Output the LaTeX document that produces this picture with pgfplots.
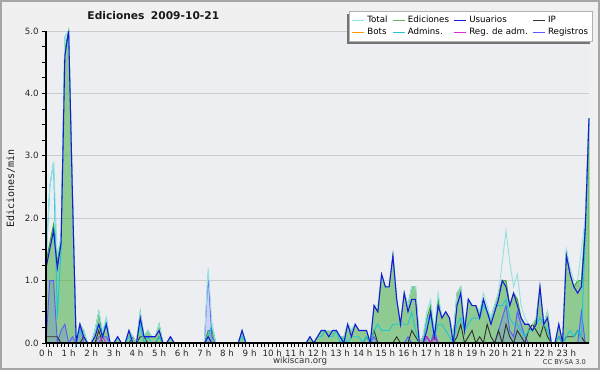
\documentclass[border=0pt]{standalone}
\usepackage{fontspec}
\setmainfont{DejaVu Sans}
\newfontfamily\monofont{DejaVu Sans Mono}
\usepackage{pgfplots}
\usepackage{pgfplotstable}
\pgfplotsset{compat=1.18}
\usetikzlibrary{shadows}
\makeatletter
\tikzset{nopreaction/.code={\let\tikz@preactions\pgfutil@empty}}
\makeatother

\definecolor{bgout}{RGB}{240,240,240}
\definecolor{bgplot}{RGB}{237,238,241}
\definecolor{ctotal}{RGB}{150,225,225}
\definecolor{ced}{RGB}{51,170,51}
\definecolor{cusu}{RGB}{25,25,220}
\definecolor{cip}{RGB}{50,50,50}
\definecolor{cbot}{RGB}{255,153,0}
\definecolor{cadm}{RGB}{30,200,215}
\definecolor{cradm}{RGB}{220,40,220}
\definecolor{creg}{RGB}{90,90,255}

\pgfplotstableread{
i E U T A P R M
0 1.3 1.2 1.3 1.3 0.1 0.0 0
1 1.6 1.5 2.5 2.5 0.1 1.0 0
2 1.9 1.8 2.9 2.9 0.1 1.0 0
3 1.3 1.2 1.4 0.4 0.1 0.0 0
4 1.7 1.6 1.7 1.5 0.0 0.2 0
5 4.7 4.6 4.9 4.9 0 0.3 0
6 5.0 5.0 5.0 5.0 0 0 0
7 2.4 2.4 2.5 2.4 0 0.1 0
8 0 0 0 0 0 0 0
9 0.3 0.3 0.3 0.2 0 0.3 0
10 0.2 0.1 0.2 0.1 0.1 0 0
11 0 0 0 0 0 0 0
12 0 0 0 0 0 0 0
13 0.2 0.1 0.2 0.2 0 0 0
14 0.5 0.3 0.5 0.3 0.2 0.1 0
15 0.1 0.1 0.2 0.1 0 0.1 0.1
16 0.3 0.3 0.4 0.4 0 0.1 0
17 0 0 0 0 0 0 0
18 0 0 0 0 0 0 0
19 0.1 0.1 0.1 0 0 0 0
20 0 0 0 0 0 0 0
21 0 0 0 0 0 0 0
22 0.2 0.2 0.2 0.1 0 0 0
23 0.1 0 0.1 0 0.1 0 0
24 0 0 0 0 0 0 0
25 0.5 0.4 0.5 0.3 0.1 0 0
26 0.1 0.1 0.1 0 0.1 0 0
27 0.2 0.1 0.2 0.1 0 0 0
28 0.1 0.1 0.1 0 0 0 0
29 0.1 0.1 0.1 0 0 0 0
30 0.3 0.2 0.3 0.1 0.1 0 0
31 0 0 0 0 0 0 0
32 0 0 0 0 0 0 0
33 0.1 0.1 0.1 0 0 0 0
34 0 0 0 0 0 0 0
35 0 0 0 0 0 0 0
36 0 0 0 0 0 0 0
37 0 0 0 0 0 0 0
38 0 0 0 0 0 0 0
39 0 0 0 0 0 0 0
40 0 0 0 0 0 0 0
41 0 0 0 0 0 0 0
42 0 0 0 0 0 0 0
43 0.2 0.1 1.2 0.1 0 1.1 0
44 0.2 0 0.3 0.3 0 0.1 0
45 0 0 0 0 0 0 0
46 0 0 0 0 0 0 0
47 0 0 0 0 0 0 0
48 0 0 0 0 0 0 0
49 0 0 0 0 0 0 0
50 0 0 0 0 0 0 0
51 0 0 0 0 0 0 0
52 0.2 0.2 0.2 0.1 0 0 0
53 0 0 0 0 0 0 0
54 0 0 0 0 0 0 0
55 0 0 0 0 0 0 0
56 0 0 0 0 0 0 0
57 0 0 0 0 0 0 0
58 0 0 0 0 0 0 0
59 0 0 0 0 0 0 0
60 0 0 0 0 0 0 0
61 0 0 0 0 0 0 0
62 0 0 0 0 0 0 0
63 0 0 0 0 0 0 0
64 0 0 0 0 0 0 0
65 0 0 0 0 0 0 0
66 0 0 0 0 0 0 0
67 0 0 0 0 0 0 0
68 0 0 0 0 0 0 0
69 0 0 0 0 0 0 0
70 0.1 0.1 0.1 0 0 0 0
71 0 0 0 0 0 0 0
72 0.1 0.1 0.1 0.1 0 0 0
73 0.2 0.2 0.2 0.1 0 0 0
74 0.2 0.2 0.2 0.2 0 0 0
75 0.2 0.1 0.2 0.1 0 0 0
76 0.2 0.2 0.2 0.1 0 0 0
77 0.2 0.2 0.2 0.2 0 0 0
78 0.1 0.1 0.1 0 0 0 0
79 0.1 0 0.1 0.1 0 0 0
80 0.3 0.3 0.3 0 0 0 0
81 0.2 0.1 0.2 0.1 0 0 0
82 0.3 0.3 0.3 0.1 0 0 0
83 0.2 0.2 0.2 0.1 0 0 0
84 0.2 0.2 0.2 0 0 0 0
85 0.2 0.2 0.2 0.1 0.1 0 0
86 0 0 0 0 0 0 0
87 0.6 0.6 0.6 0.2 0.2 0.1 0
88 0.5 0.5 0.6 0.3 0 0 0
89 1.1 1.1 1.1 0.2 0 0 0
90 0.9 0.9 0.9 0.2 0 0 0
91 0.9 0.9 0.9 0.2 0 0 0
92 1.4 1.4 1.4 0.3 0 0 0
93 0.7 0.7 0.7 0.3 0.1 0 0
94 0.3 0.3 0.3 0.3 0 0 0
95 0.8 0.8 0.8 0.3 0 0 0
96 0.6 0.5 0.6 0.3 0 0.1 0
97 0.9 0.7 0.9 0.5 0.2 0 0
98 0.9 0.7 0.9 0.2 0.1 0 0
99 0 0 0 0 0 0 0
100 0.1 0 0.1 0 0.1 0 0
101 0.4 0.2 0.5 0.4 0.1 0.1 0.1
102 0.6 0.5 0.7 0.4 0 0 0
103 0.1 0.1 0.2 0.1 0.1 0.2 0.1
104 0.7 0.6 0.8 0.3 0 0 0
105 0.4 0.4 0.4 0.3 0 0 0
106 0.5 0.5 0.5 0.2 0 0 0
107 0.4 0.4 0.4 0.1 0 0 0
108 0.1 0 0.1 0 0 0 0
109 0.8 0.6 0.8 0.3 0.1 0 0
110 0.9 0.8 0.9 0.4 0.3 0 0
111 0.2 0.2 0.3 0.2 0 0 0
112 0.7 0.7 0.7 0.3 0.1 0 0
113 0.6 0.6 0.6 0.4 0.2 0 0
114 0.6 0.6 0.6 0.4 0 0 0
115 0.5 0.4 0.5 0.4 0.1 0 0
116 0.7 0.7 0.8 0.6 0 0 0
117 0.5 0.5 0.6 0.5 0.3 0 0
118 0.4 0.3 0.4 0.4 0.1 0 0
119 0.6 0.5 0.6 0.6 0 0 0
120 0.8 0.7 0.8 0.6 0.2 0.2 0
121 1.0 1.0 1.3 0.6 0 0.4 0
122 1.0 0.9 1.8 0.7 0.3 0.6 0
123 0.6 0.6 1.3 0.4 0.1 0.2 0
124 0.8 0.8 0.9 0.3 0 0.1 0
125 0.7 0.6 1.1 0.3 0.2 0.5 0
126 0.4 0.4 0.6 0.2 0.1 0.3 0
127 0.3 0.3 0.4 0.1 0 0.1 0
128 0.3 0.3 0.3 0.2 0.2 0 0
129 0.2 0.2 0.3 0.2 0.3 0 0
130 0.4 0.3 0.4 0.3 0.2 0 0
131 0.9 0.9 0.9 0.4 0.1 0 0
132 0.3 0.3 0.3 0.3 0.3 0 0
133 0.5 0.4 0.5 0.2 0.1 0 0
134 0 0 0 0 0 0 0
135 0 0 0 0 0 0 0
136 0.3 0.3 0.3 0.1 0.1 0 0
137 0 0 0 0 0 0 0
138 1.5 1.4 1.5 0.1 0.1 0 0
139 1.1 1.1 1.2 0.2 0.1 0 0
140 0.9 0.9 1.0 0.1 0.1 0 0
141 1.0 0.8 1.0 0.2 0.2 0 0
142 1.0 0.9 1.5 0.1 0.1 0.5 0
143 1.9 1.8 2.0 1.7 0 0 0
144 3.6 3.6 3.6 3.6 0 0 0
}\data

\begin{document}
\begin{tikzpicture}
\useasboundingbox (0,0) rectangle (450pt,277.5pt);
\fill[bgout] (0,0) rectangle (450pt,277.5pt);
\draw[black!35, line width=1.2pt] (0.6pt,0.6pt) rectangle (449.4pt,276.9pt);
\begin{axis}[
  at={(34.5pt,20.25pt)}, anchor=south west,
  scale only axis, width=407.25pt, height=234pt,
  xmin=0, xmax=24, ymin=0, ymax=5,
  clip=false,
  axis background/.style={fill=bgplot},
  axis line style={draw=none},
  tick pos=left, tick align=outside,
  major tick length=3pt, minor tick length=3pt,
  tick style={black, line width=0.6pt},
  xtick={0,...,23},
  xticklabels={0 h,1 h,2 h,3 h,4 h,5 h,6 h,7 h,8 h,9 h,10 h,11 h,12 h,13 h,14 h,15 h,16 h,17 h,18 h,19 h,20 h,21 h,22 h,23 h},
  minor x tick num=5,
  ytick={0,1,2,3,4,5},
  yticklabels={0.0,1.0,2.0,3.0,4.0,5.0},
  minor y tick num=3,
  ymajorgrids, grid style={black!20, line width=0.6pt},
  tick label style={font=\fontsize{6.5}{7}\selectfont, text=black!85},
  xticklabel style={yshift=1.5pt},
  yticklabel style={xshift=1pt},
  legend columns=4,
  legend cell align=left,
  legend image code/.code={\draw[nopreaction, #1, line width=0.7pt] (0pt,0pt) -- (9pt,0pt);},
  legend style={at={(1,1)}, anchor=north east, xshift=3pt, yshift=15pt,
    draw=black!30, fill=white, font=\fontsize{6.5}{7}\selectfont,
    inner sep=1.5pt, row sep=-1.5pt,
    /tikz/every even column/.append style={column sep=1.5pt},
    drop shadow={shadow xshift=-2pt, shadow yshift=-2pt, fill=black!55, opacity=1}},
]
\addplot[ced, line width=0.7pt, fill=ced, fill opacity=0.5, forget plot] table[x expr=\thisrow{i}/6, y=E] {\data} \closedcycle;
\addplot[creg, line width=0.7pt, fill=creg, fill opacity=0.2, forget plot] table[x expr=\thisrow{i}/6, y=R] {\data} \closedcycle;
\addplot[cip, line width=0.7pt, forget plot] table[x expr=\thisrow{i}/6, y=P] {\data};
\addplot[cradm, line width=0.7pt, forget plot] table[x expr=\thisrow{i}/6, y=M] {\data};
\addplot[cadm, line width=0.7pt, forget plot] table[x expr=\thisrow{i}/6, y=A] {\data};
\addplot[ctotal, line width=0.7pt, forget plot] table[x expr=\thisrow{i}/6, y=T] {\data};
\addplot[cusu, line width=0.8pt, forget plot] table[x expr=\thisrow{i}/6, y=U] {\data};
\draw[black, line width=0.8pt] (rel axis cs:0,1) -- (rel axis cs:0,0) -- (rel axis cs:1,0);
\addlegendimage{ctotal}\addlegendentry{Total}
\addlegendimage{ced!80}\addlegendentry{Ediciones}
\addlegendimage{cusu}\addlegendentry{Usuarios}
\addlegendimage{cip}\addlegendentry{IP}
\addlegendimage{cbot}\addlegendentry{Bots}
\addlegendimage{cadm}\addlegendentry{Admins.}
\addlegendimage{cradm}\addlegendentry{Reg. de adm.}
\addlegendimage{creg}\addlegendentry{Registros}
\end{axis}
\node[font=\bfseries\fontsize{8}{9}\selectfont, text=black!90] at (115pt,265.5pt) {Ediciones\hspace{0.6em}2009-10-21};
\node[rotate=90, font=\monofont\fontsize{7.5}{8}\selectfont, text=black!90] at (8pt,136pt) {Ediciones/min};
\node[font=\fontsize{6.5}{7}\selectfont, text=black!80] at (225pt,6.5pt) {wikiscan.org};
\node[anchor=east, font=\fontsize{5}{6}\selectfont, text=black!80] at (443pt,6pt) {CC BY-SA 3.0};
\end{tikzpicture}
\end{document}
